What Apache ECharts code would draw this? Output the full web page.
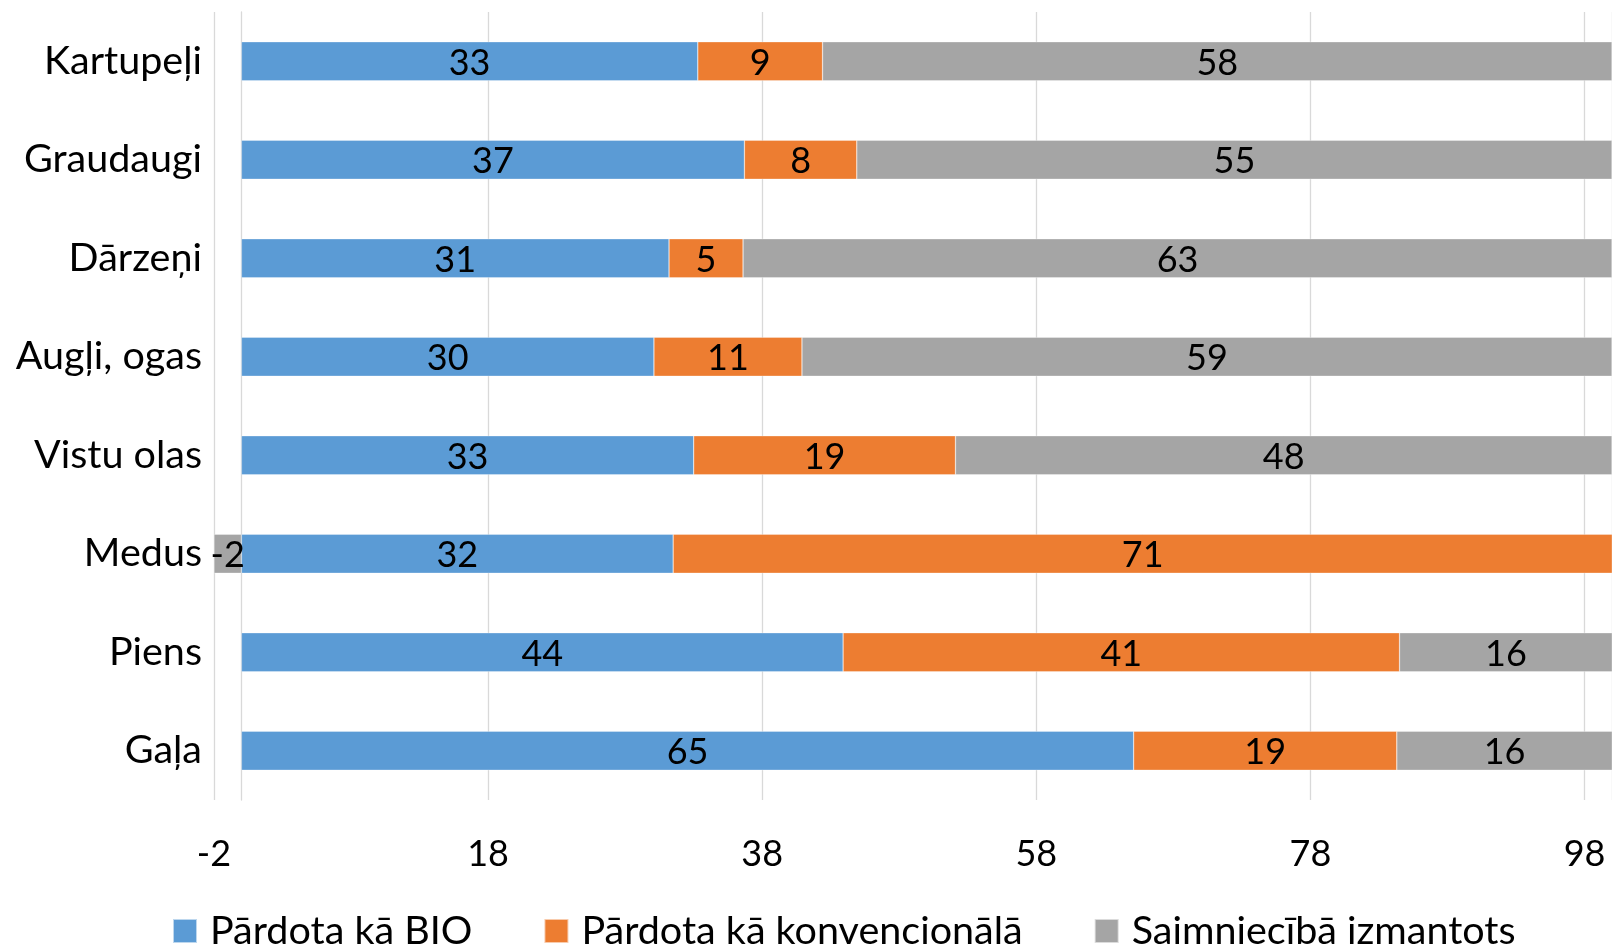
<!DOCTYPE html>
<html>
<head>
<meta charset="utf-8">
<script src="https://cdn.jsdelivr.net/npm/echarts@6/dist/echarts.min.js"></script>
<style>html,body{margin:0;padding:0;background:#fff}#c{width:1612px;height:946px}</style>
</head>
<body>
<div id="c"></div>
<script>
const categories = ['Kartupeļi','Graudaugi','Dārzeņi','Augļi, ogas','Vistu olas','Medus','Piens','Gaļa'];
const seriesNames = ['Pārdota kā BIO','Pārdota kā konvencionālā','Saimniecībā izmantots'];
const bio = [33.3, 36.7, 31.2, 30.1, 33.0, 31.5, 43.9, 65.1];
const konv = [9.1, 8.2, 5.4, 10.8, 19.1, 71.0, 40.6, 19.2];
const saimn = [57.6, 55.1, 63.4, 59.1, 47.9, -2.0, 16.0, 16.0];
const xTicks = [-2, 18, 38, 58, 78, 98];
const colors = ['#5B9BD5','#ED7D31','#A5A5A5'];

const FONT = 'Lato';
const FS_NUM = 36;
const FS_TXT = 39.5;
const chart = echarts.init(document.getElementById('c'));
const mk = (name, data, color) => ({
  name, type: 'bar', stack: 'total', data,
  barWidth: 39,
  itemStyle: {color, borderColor: 'rgba(255,255,255,0.6)', borderWidth: 0.5},
  label: {show: true, position: 'inside', offset: [0, 2], color: '#000', fontFamily: FONT, fontSize: FS_NUM,
          formatter: p => String(Math.round(p.value))},
  emphasis: {disabled: true}
});
chart.setOption({
  animation: false,
  color: colors,
  grid: {left: 214, right: -3, top: 12, bottom: 146},
  xAxis: {
    type: 'value', min: xTicks[0], max: 100, interval: xTicks[1] - xTicks[0],
    axisLine: {show: false}, axisTick: {show: false},
    splitLine: {show: true, lineStyle: {color: '#d9d9d9', width: 1.3}},
    axisLabel: {showMaxLabel: false, color: '#000', fontFamily: FONT, fontSize: FS_NUM, margin: 36,
                formatter: v => xTicks.includes(v) ? String(v) : ''}
  },
  yAxis: {
    type: 'category', data: categories, inverse: true,
    axisLine: {show: true, onZero: true, lineStyle: {color: '#d9d9d9', width: 1.3}},
    axisTick: {show: false},
    axisLabel: {color: '#000', fontFamily: FONT, fontSize: FS_TXT, margin: 12, padding: [4, 0, 0, 0]}
  },
  legend: {
    left: 167, top: 906, itemWidth: 24, itemHeight: 24, itemGap: 71,
    icon: 'rect',
    textStyle: {color: '#000', fontFamily: FONT, fontSize: FS_TXT, lineHeight: 40, padding: [0,0,0,8]},
    data: seriesNames
  },
  series: [mk(seriesNames[0], bio, colors[0]), mk(seriesNames[1], konv, colors[1]), mk(seriesNames[2], saimn, colors[2])]
});
</script>
</body>
</html>
